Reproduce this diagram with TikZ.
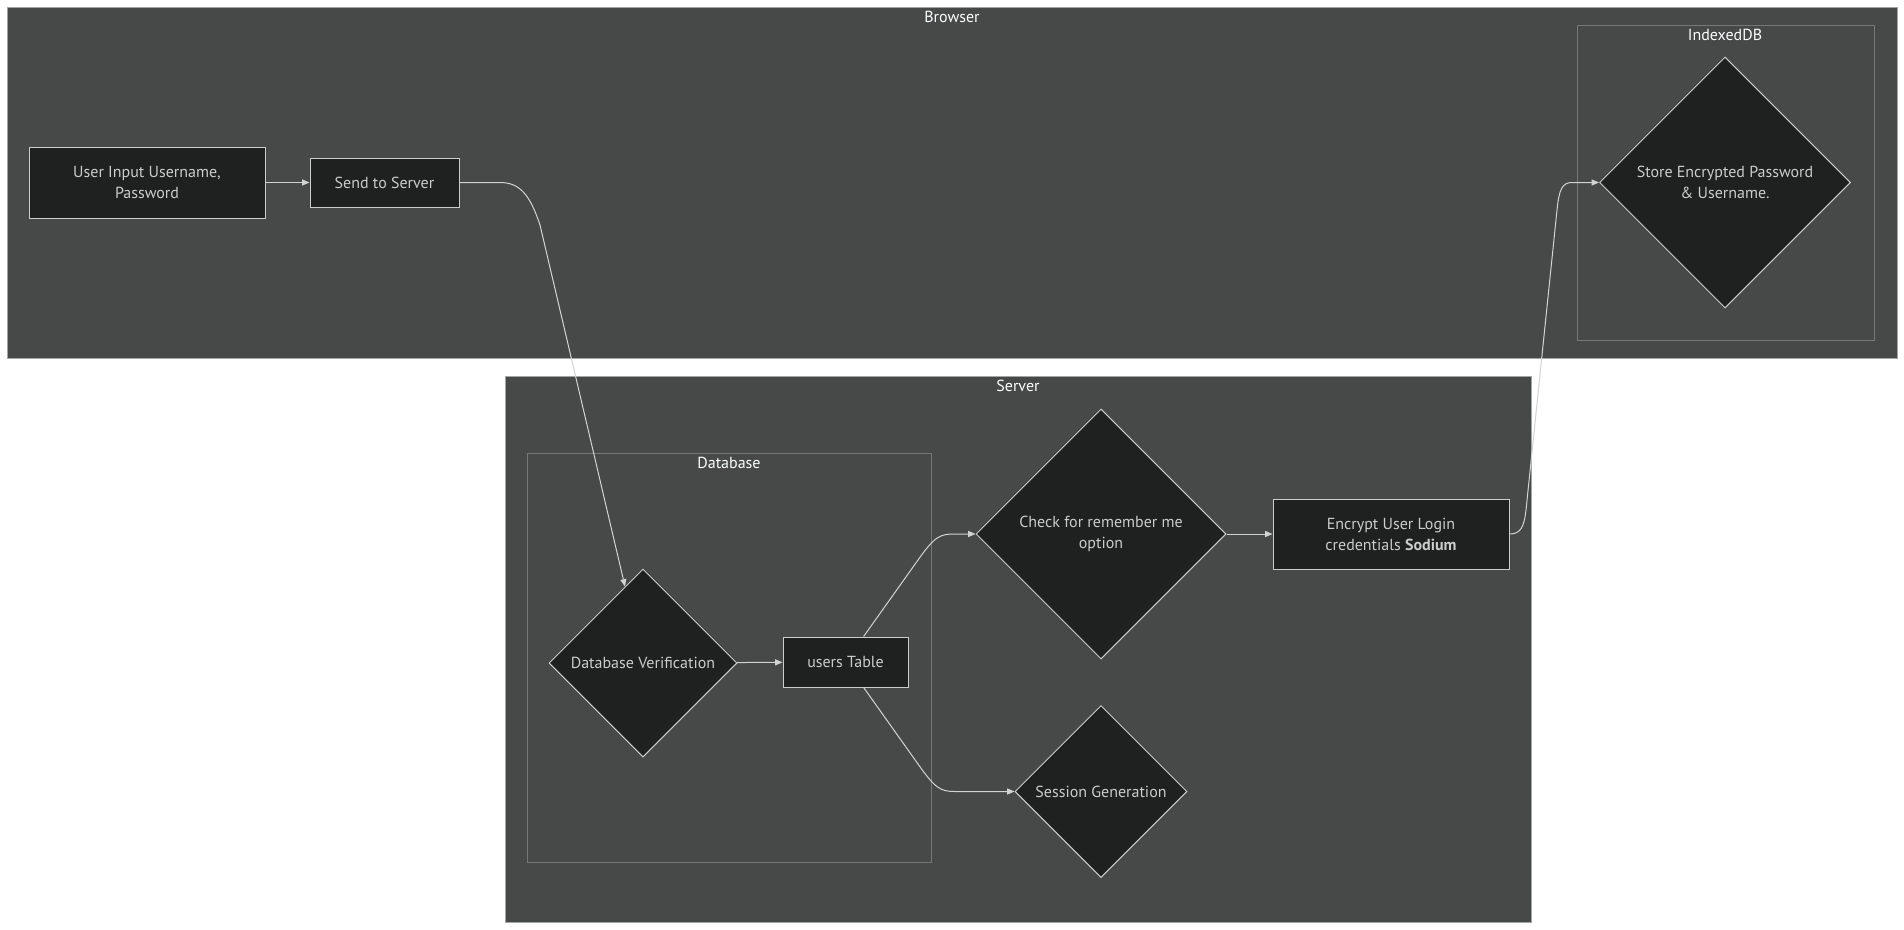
\documentclass[tikz,border=0pt]{standalone}
\usepackage{fontspec}
\setmainfont{PT Sans}
\usetikzlibrary{shapes.geometric,arrows.meta}
\definecolor{clusterbg}{HTML}{474949}
\definecolor{nodebg}{HTML}{1F2020}
\definecolor{nodeline}{HTML}{CCCCCC}
\definecolor{outerline}{HTML}{A3A4A4}
\definecolor{innerline}{HTML}{767878}
\definecolor{edgeline}{HTML}{D3D3D3}
\definecolor{titletext}{HTML}{F9FFFE}
\tikzset{
	cluster/.style={fill=clusterbg, draw=outerline, line width=0.75pt},
	subcluster/.style={draw=innerline, line width=0.75pt},
	clustertitle/.style={text=titletext, inner sep=0pt, font=\fontsize{12}{14}\selectfont},
	procbox/.style={rectangle, fill=nodebg, draw=nodeline, line width=0.75pt, text=nodeline,
		align=center, inner sep=0pt, font=\fontsize{12}{15.75}\selectfont},
	decision/.style={diamond, aspect=1, fill=nodebg, draw=nodeline, line width=0.75pt, text=nodeline,
		align=center, inner sep=0pt, font=\fontsize{12}{15.75}\selectfont},
	edge/.style={draw=edgeline, line width=0.75pt, -{Triangle[length=5.5pt,width=4.5pt]}},
}

\begin{document}
\begin{tikzpicture}[x=0.75pt, y=-0.75pt]
	\useasboundingbox[fill=white] (0,0) rectangle (1904,929);
	%browser cluster
	\draw[cluster] (7,7) rectangle (1897,358);
	\node[clustertitle] (browsertitle) at (952,17) {Browser};
	\draw[subcluster] (1577,25) rectangle (1874,340);
	\node[clustertitle] (idbtitle) at (1725,35) {IndexedDB};
	%server cluster
	\draw[cluster] (505,376) rectangle (1531,922);
	\node[clustertitle] (servertitle) at (1018,386) {Server};
	\draw[subcluster] (527,453) rectangle (931,862);
	\node[clustertitle] (dbtitle) at (729,463) {Database};
	%browser nodes
	\node[procbox, minimum width=177pt, minimum height=53.25pt] (ui) at (147,182.5)
		{User Input Username,\\Password};
	\node[procbox, minimum width=111.75pt, minimum height=36.75pt] (send) at (384.5,182.5)
		{Send to Server};
	\node[decision, minimum width=188.25pt, minimum height=188.25pt] (store) at (1725,182.5)
		{Store Encrypted Password\\\& Username.};
	%server nodes
	\node[decision, minimum width=141pt, minimum height=141pt] (dbv) at (643,663)
		{Database Verification};
	\node[procbox, minimum width=93.75pt, minimum height=37.5pt] (ut) at (845.5,662)
		{users Table};
	\node[decision, minimum width=187.5pt, minimum height=187.5pt] (crm) at (1101,534)
		{Check for remember me\\option};
	\node[procbox, minimum width=177pt, minimum height=52.5pt] (enc) at (1391,534)
		{Encrypt User Login\\credentials \textbf{Sodium}};
	\node[decision, minimum width=129pt, minimum height=129pt] (sg) at (1101,791.5)
		{Session Generation};
	%straight edges
	\foreach \src/\dst in {ui/send, dbv/ut, crm/enc}
		\draw[edge] (\src) -- (\dst);
	%curved edges
	\draw[edge] (send.east) -- (500,182.5) .. controls (520,182.5) and (530,195) .. (540,225) -- (dbv);
	\draw[edge] (ut) -- (918,560) .. controls (935,536) and (940,534) .. (955,534) -- (crm);
	\draw[edge] (ut) -- (918,764) .. controls (935,788) and (940,791.5) .. (955,791.5) -- (sg);
	\draw[edge] (enc.east) .. controls (1520,534) and (1524,528) .. (1526,510) --
		(1557,210) .. controls (1559,190) and (1562,182.5) .. (1572,182.5) -- (store);
\end{tikzpicture}
\end{document}
